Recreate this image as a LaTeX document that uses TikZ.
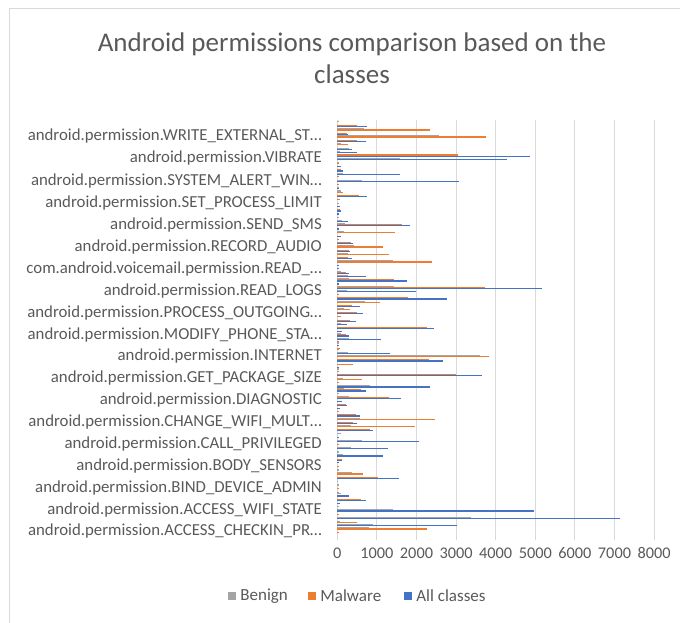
\documentclass[tikz,border=0pt]{standalone}
\usepackage{fontspec}
\setmainfont{Carlito}
\usetikzlibrary{positioning}

\definecolor{txtgray}{HTML}{595959}
\definecolor{gridgray}{HTML}{D9D9D9}
\definecolor{bengray}{HTML}{A5A5A5}
\definecolor{malorange}{HTML}{ED7D31}
\definecolor{allblue}{HTML}{4472C4}

\tikzset{
  grid/.style={gridgray, line width=1pt},
  bn/.style={bengray, line width=1.2pt},
  mw/.style={malorange, line width=1.2pt},
  ac/.style={allblue, line width=1.2pt},
  lab/.style={anchor=east, inner sep=0pt, text=txtgray, font=\fontsize{16.8}{18}\selectfont},
  tick/.style={inner sep=0pt, text=txtgray, font=\fontsize{16.3}{18}\selectfont},
  key/.style={minimum size=8pt, inner sep=0pt},
  leg/.style={inner sep=0pt, text=txtgray, font=\fontsize{17}{19}\selectfont}
}

\begin{document}
\begin{tikzpicture}[x=1pt, y=-1pt]
  \useasboundingbox (0,0) rectangle (680,622);
  \draw[gridgray] (9,690) -- (9,8) -- (690,8);

  % title
  \draw (352,58) node[align=center, text=txtgray, font=\fontsize{27}{32}\selectfont] (title)
        {Android permissions comparison based on the\\classes};

  % grid and value axis
  \foreach \k [evaluate=\k as \n using int(1000*\k)] in {0,...,8} {
    \draw[grid] (337.3+39.6*\k,120) -- (337.3+39.6*\k,540);
    \draw (337.3+39.6*\k,553) node[tick] (t\k) {\n};
  }

  % category labels
  \foreach \y/\t [count=\i] in {
      136/android.permission.WRITE\_EXTERNAL\_ST\ldots,
      158/android.permission.VIBRATE,
      181/android.permission.SYSTEM\_ALERT\_WIN\ldots,
      203/android.permission.SET\_PROCESS\_LIMIT,
      225/android.permission.SEND\_SMS,
      247/android.permission.RECORD\_AUDIO,
      269/com.android.voicemail.permission.READ\_\ldots,
      291/android.permission.READ\_LOGS,
      313/android.permission.PROCESS\_OUTGOING\ldots,
      335/android.permission.MODIFY\_PHONE\_STA\ldots,
      356/android.permission.INTERNET,
      378/android.permission.GET\_PACKAGE\_SIZE,
      400/android.permission.DIAGNOSTIC,
      422/android.permission.CHANGE\_WIFI\_MULT\ldots,
      444/android.permission.CALL\_PRIVILEGED,
      466/android.permission.BODY\_SENSORS,
      488/android.permission.BIND\_DEVICE\_ADMIN,
      510/android.permission.ACCESS\_WIFI\_STATE,
      531/android.permission.ACCESS\_CHECKIN\_PR\ldots}
    \draw (322,\y) node[lab] (cat\i) {\t};

  % bars: y / value / class
  \foreach \y/\v/\c in {
      121.7/40/bn, 125.3/490/mw, 126.3/760/ac, 129/670/bn, 130/2330/mw,
      133.3/240/mw, 134.3/270/ac, 136/2570/bn, 137/3750/mw, 140.7/490/mw,
      141.7/720/ac, 143.3/90/bn, 144.7/270/mw, 148.3/300/bn, 149.3/380/ac,
      151.7/70/bn, 152.3/490/ac, 155/3050/mw, 156.3/4870/ac, 158.3/1580/bn,
      159.3/4280/ac, 162.3/40/bn, 163.3/40/mw, 166.7/90/ac, 170/90/mw,
      171/140/ac, 173.3/140/bn, 174.3/1580/ac, 176.7/40/mw, 180.7/620/bn,
      181.7/3070/ac, 184.3/40/mw, 187.7/40/bn, 188.7/40/ac, 191/90/bn,
      192.3/140/mw, 195.3/550/mw, 196.3/760/ac, 199.3/60/mw, 203.3/40/bn,
      206.7/60/ac, 210/60/mw, 211/90/ac, 214/40/ac, 217.3/40/bn,
      220.7/130/bn, 221.7/280/ac, 224/190/bn, 224.7/1630/mw, 225.7/1830/ac,
      229/40/ac, 231.3/170/bn, 232.3/1450/mw, 236.3/90/ac, 239.3/40/mw,
      242.7/350/mw, 243.7/400/ac, 246/420/bn, 247/1150/mw, 250.3/295/mw,
      251.3/320/ac, 253.3/270/bn, 254.3/1310/mw, 257.7/270/mw, 258.7/360/ac,
      261/1400/bn, 262/2380/mw, 265.7/40/ac, 268.3/40/ac, 271.7/90/bn,
      272.3/230/mw, 273.3/300/ac, 275.3/270/bn, 276.3/730/ac, 279/300/bn,
      280/1430/mw, 281/1750/ac, 284/40/ac, 286.7/1430/bn, 287.7/3720/mw,
      288.7/5180/ac, 290.7/250/bn, 291.7/2000/ac, 294.7/40/mw, 298/1780/mw,
      299/2760/ac, 301.3/700/bn, 302.3/1080/mw, 305.3/380/mw, 306.3/570/ac,
      308.7/170/bn, 309.7/320/mw, 312.7/490/mw, 313.7/650/ac, 316.7/90/mw,
      320.3/320/mw, 321.3/460/ac, 323.3/90/bn, 324.3/240/ac, 327.3/2270/mw,
      328.3/2440/ac, 331.3/120/ac, 334/90/bn, 335/230/mw, 336/300/ac,
      338.3/290/bn, 339.3/1100/ac, 342/40/mw, 343/40/bn, 345.7/40/ac,
      348.3/60/mw, 349.3/40/mw, 352.7/270/bn, 353.7/1320/ac, 355.7/3600/bn,
      356.7/3830/mw, 360/2310/mw, 361/2680/ac, 364.3/400/mw, 368/40/ac,
      369/40/bn, 371.7/40/mw, 374.3/3000/mw, 375.7/3650/ac, 378.3/150/bn,
      379.3/620/mw, 382.7/40/mw, 386/820/bn, 387/2340/ac, 389/170/bn,
      390/590/mw, 391/720/ac, 393.3/40/bn, 396.3/300/bn, 397.3/1310/mw,
      398.3/1600/ac, 401.3/130/ac, 404.3/210/mw, 405.3/240/ac, 408.3/60/ac,
      411.7/40/mw, 415/460/mw, 416/570/ac, 418.3/570/bn, 419.3/2470/mw,
      422.3/400/mw, 423.3/490/ac, 425.3/340/bn, 426.3/1950/mw, 429.7/820/mw,
      430.7/890/ac, 433.3/90/bn, 437.3/40/ac, 440.3/620/bn, 441.3/2060/ac,
      444.7/40/mw, 447.7/340/bn, 448.7/1280/ac, 452/40/bn, 455/140/bn,
      456/1150/ac, 459.3/110/mw, 460.3/110/ac, 462.7/40/ac, 466.3/40/mw,
      470/40/bn, 473/380/bn, 474/640/mw, 477.3/1040/mw, 478.3/1550/ac,
      481.7/20/bn, 485/40/bn, 488.3/40/mw, 492.3/40/mw, 493.3/90/bn,
      496/300/ac, 499.3/590/mw, 500.3/720/ac, 503.3/60/ac, 506.7/40/bn,
      510/1400/bn, 511/4970/ac, 514.3/40/mw, 517.3/3370/bn, 518.3/7150/ac,
      521.3/60/bn, 522.3/490/mw, 524.7/890/bn, 525.7/3030/ac, 528/800/bn,
      529/2270/mw, 532.3/40/mw}
    \draw[\c] (337.3,\y) -- ++(\v*0.0396,0);

  % legend
  \node[key, fill=bengray] (kbn) at (232,596) {};
  \node[leg, right=4pt of kbn] (lbn) {Benign};
  \node[key, fill=malorange] (kmw) at (312,596) {};
  \node[leg, right=4pt of kmw] (lmw) {Malware};
  \node[key, fill=allblue] (kac) at (408,596) {};
  \node[leg, right=4pt of kac] (lac) {All classes};
\end{tikzpicture}
\end{document}
